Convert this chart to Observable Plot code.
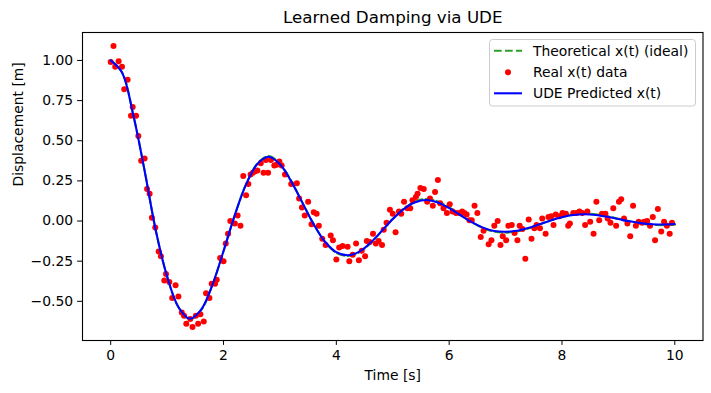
<!DOCTYPE html>
<html>
<head>
<meta charset="utf-8">
<script src="https://cdn.jsdelivr.net/npm/d3@7"></script>
<script src="https://cdn.jsdelivr.net/npm/@observablehq/plot@0.6"></script>
<style>
  body { margin: 0; background: #fff; }
  #wrap { position: relative; width: 711px; height: 393px; font-family: "DejaVu Sans", sans-serif; }
  #wrap svg.overlay { position: absolute; left: 0; top: 0; pointer-events: none; }
</style>
</head>
<body>
<div id="wrap"></div>
<script>
// ---- Data ----
const tData = [0.00,0.05,0.08,0.14,0.20,0.24,0.30,0.36,0.39,0.45,0.49,0.54,0.60,0.645,0.69,0.73,0.79,0.85,0.89,0.95,0.98,1.04,1.09,1.15,1.20,1.26,1.30,1.34,1.41,1.45,1.51,1.55,1.59,1.65,1.69,1.75,1.79,1.85,1.88,1.94,2.00,2.04,2.08,2.12,
  2.20,2.25,2.30,2.35,2.40,2.44,2.48,2.52,2.56,2.60,2.66,2.71,2.75,2.79,2.84,2.90,2.94,2.99,3.03,3.09,3.20,3.30,3.34,3.39,3.44,3.50,3.56,3.60,3.65,3.69,
  3.75,3.81,3.90,3.94,4.00,4.05,4.11,4.20,4.23,4.29,4.35,4.40,4.45,4.51,4.54,4.59,4.65,4.70,4.75,4.81,4.84,4.89,4.95,5.00,5.05,5.11,5.15,5.20,5.26,5.31,
  5.35,5.41,5.44,5.49,5.55,5.61,5.66,5.71,5.75,5.80,5.84,5.90,5.96,6.01,6.06,6.12,6.18,6.23,6.27,6.31,6.36,6.40,6.45,6.50,6.56,6.61,6.70,6.75,6.80,6.86,
  6.91,6.95,7.01,7.05,7.11,7.16,7.21,7.25,7.30,7.35,7.41,7.46,7.51,7.55,7.61,7.65,7.71,7.76,7.81,7.85,7.89,7.95,8.01,8.07,8.11,8.14,8.20,8.26,8.31,8.36,
  8.41,8.45,8.50,8.56,8.61,8.66,8.71,8.77,8.81,8.86,8.91,8.96,9.01,9.05,9.10,9.16,9.21,9.26,9.31,9.36,9.42,9.46,9.51,9.56,9.61,9.65,9.70,9.76,9.81,9.86,9.91,9.95];
const xData = [0.99,1.09,0.96,0.995,0.96,0.82,0.88,0.656,0.71,0.656,0.53,0.375,0.39,0.20,0.17,0.02,-0.04,-0.19,-0.22,-0.37,-0.33,-0.38,-0.48,-0.40,-0.47,-0.57,-0.59,-0.64,-0.61,-0.66,-0.59,-0.64,-0.58,-0.625,-0.45,-0.48,-0.39,-0.39,-0.365,-0.23,-0.25,-0.14,-0.08,0.0,
  -0.015,0.035,-0.03,0.28,0.16,0.23,0.29,0.30,0.31,0.315,0.36,0.30,0.38,0.30,0.38,0.345,0.35,0.37,0.345,0.29,0.23,0.235,0.14,0.085,0.035,0.12,-0.02,0.055,0.045,-0.03,
  -0.11,-0.15,-0.09,-0.12,-0.24,-0.165,-0.155,-0.16,-0.25,-0.21,-0.14,-0.245,-0.185,-0.22,-0.125,-0.13,-0.08,-0.14,-0.125,-0.15,-0.055,-0.01,0.07,0.045,-0.07,0.06,0.045,0.12,0.08,0.08,
  0.13,0.15,0.17,0.205,0.20,0.12,0.14,0.095,0.18,0.255,0.11,0.08,0.05,0.105,0.06,0.05,0.05,0.06,0.05,0.04,0.005,0.005,0.095,0.05,-0.10,-0.06,-0.145,-0.12,-0.03,0.0,
  -0.15,-0.095,-0.12,-0.03,-0.025,-0.075,-0.12,-0.03,-0.05,-0.235,0.01,-0.11,-0.045,-0.025,-0.045,0.015,-0.08,0.025,0.03,-0.025,0.04,0.03,0.05,0.045,-0.03,-0.015,0.05,0.05,0.06,0.05,
  -0.025,0.06,-0.005,-0.08,0.12,0.005,0.045,0.045,0.015,-0.01,0.08,-0.03,0.12,0.135,0.015,-0.015,-0.095,0.095,-0.03,-0.005,-0.01,-0.005,0.0,-0.03,0.025,-0.12,0.075,-0.065,-0.005,-0.03,-0.08,-0.01];

const tCurve = [0,0.2,0.4,0.6,0.8,1.0,1.2,1.4,1.6,1.8,2.0,2.2,2.4,2.6,2.8,3.0,3.2,3.4,3.6,3.8,4.0,4.2,4.4,4.6,4.8,5.0,5.2,5.4,5.6,5.8,6.0,6.2,6.4,6.6,6.8,7.0,7.2,7.4,7.6,7.8,8.0,8.2,8.4,8.6,8.8,9.0,9.2,9.4,9.6,9.8,10.0];
const udePred = [1.000,0.925,0.660,0.315,-0.060,-0.345,-0.535,-0.608,-0.553,-0.400,-0.187,0.037,0.228,0.355,0.400,0.353,0.247,0.113,-0.021,-0.129,-0.194,-0.213,-0.192,-0.137,-0.064,0.012,0.076,0.117,0.131,0.115,0.080,0.036,-0.007,-0.041,-0.062,-0.067,-0.061,-0.043,-0.020,0.004,0.024,0.038,0.042,0.037,0.026,0.012,-0.002,-0.013,-0.020,-0.022,-0.019];
const theoretical = [1.000,0.927,0.662,0.317,-0.059,-0.346,-0.537,-0.612,-0.557,-0.402,-0.188,0.037,0.230,0.358,0.404,0.357,0.250,0.114,-0.021,-0.131,-0.198,-0.217,-0.196,-0.141,-0.066,0.012,0.079,0.122,0.137,0.121,0.085,0.039,-0.007,-0.044,-0.066,-0.072,-0.065,-0.047,-0.022,0.004,0.027,0.042,0.047,0.042,0.030,0.014,-0.002,-0.016,-0.024,-0.026,-0.023];

const xTicks = [0, 2, 4, 6, 8, 10];
const yTicks = [-0.5, -0.25, 0, 0.25, 0.5, 0.75, 1.0];
const titleText = "Learned Damping via UDE";
const xLabel = "Time [s]";
const yLabel = "Displacement [m]";
const legendLabels = ["Theoretical x(t) (ideal)", "Real x(t) data", "UDE Predicted x(t)"];

// ---- Build tables ----
const points = tData.map((t, i) => ({t, x: xData[i]}));
const udeRows = tCurve.map((t, i) => ({t, x: udePred[i]}));
const theoRows = tCurve.map((t, i) => ({t, x: theoretical[i]}));

const green = "#2ca02c";
const fs = 13.9;

const chart = Plot.plot({
  width: 711,
  height: 393,
  marginLeft: 82,
  marginRight: 8.5,
  marginTop: 32,
  marginBottom: 53,
  style: {fontFamily: "DejaVu Sans", fontSize: fs + "px", color: "black", background: "white", overflow: "visible"},
  x: {domain: [-0.5, 10.5], ticks: xTicks, tickFormat: d => String(d), tickSize: 4.9, tickPadding: 4.5, label: null},
  y: {domain: [-0.744, 1.174], ticks: yTicks, tickFormat: d3.format(".2f"), tickSize: 4.9, tickPadding: 4.5, label: null},
  marks: [
    Plot.line(theoRows, {x: "t", y: "x", stroke: green, strokeWidth: 2.08, strokeDasharray: "7.7,3.3", curve: "catmull-rom"}),
    Plot.dot(points, {x: "t", y: "x", r: 3, fill: "red", stroke: "none"}),
    Plot.line(udeRows, {x: "t", y: "x", stroke: "blue", strokeWidth: 2.08, curve: "catmull-rom"}),
    Plot.frame({stroke: "black", strokeWidth: 1.1}),
    Plot.text([titleText], {frameAnchor: "top", dy: -15, fontSize: 16.7, lineAnchor: "middle", fill: "black"}),
    Plot.text([xLabel], {frameAnchor: "bottom", dy: 35, fontSize: fs, lineAnchor: "middle", fill: "black"}),
    Plot.text([yLabel], {frameAnchor: "left", dx: -64, rotate: -90, fontSize: fs, lineAnchor: "middle", fill: "black"})
  ]
});

const wrap = document.getElementById("wrap");
wrap.appendChild(chart);

// ---- Legend overlay ----
const ov = d3.select(wrap).append("svg")
  .attr("class", "overlay")
  .attr("width", 711).attr("height", 393)
  .style("font-family", "DejaVu Sans");
ov.append("rect")
  .attr("x", 489.5).attr("y", 39.5).attr("width", 206).attr("height", 66.5)
  .attr("rx", 3).attr("fill", "white").attr("fill-opacity", 0.8)
  .attr("stroke", "#cccccc").attr("stroke-width", 1);
const rowsY = [50.7, 72.3, 93.3];
ov.append("line").attr("x1", 494).attr("x2", 522).attr("y1", rowsY[0]).attr("y2", rowsY[0])
  .attr("stroke", green).attr("stroke-width", 2.08).attr("stroke-dasharray", "7.7,3.3");
ov.append("circle").attr("cx", 508).attr("cy", rowsY[1]).attr("r", 3).attr("fill", "red");
ov.append("line").attr("x1", 494).attr("x2", 522).attr("y1", rowsY[2]).attr("y2", rowsY[2])
  .attr("stroke", "blue").attr("stroke-width", 2.08);
legendLabels.forEach((lab, i) => {
  ov.append("text").attr("x", 533).attr("y", rowsY[i]).attr("dy", "0.35em")
    .attr("font-size", fs).attr("fill", "black").text(lab);
});
</script>
</body>
</html>
